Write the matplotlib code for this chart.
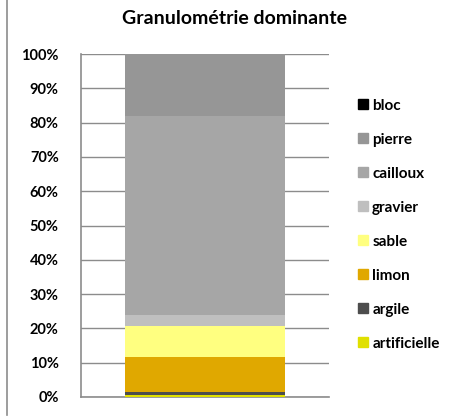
import matplotlib
matplotlib.use("Agg")
import matplotlib.pyplot as plt
from matplotlib.lines import Line2D

plt.rcParams['font.family'] = ['Lato', 'DejaVu Sans']

categories = ["artificielle", "argile", "limon", "sable", "gravier", "cailloux", "pierre", "bloc"]
values = [0.6, 0.8, 10.3, 9.0, 3.2, 58.0, 18.1, 0.0]
colors = ["#E0E000", "#4D4D4D", "#E0A800", "#FFFF80", "#BFBFBF", "#A6A6A6", "#969696", "#000000"]
yticks = [0, 10, 20, 30, 40, 50, 60, 70, 80, 90, 100]
title = "Granulométrie dominante"

fig = plt.figure(figsize=(4.5, 4.17), dpi=100)
ax = fig.add_axes([81/450, 20/417, 248/450, 343/417])

bottom = 0
for cat, v, c in zip(categories, values, colors):
    ax.bar(0, v, width=0.645, bottom=bottom, color=c, zorder=3)
    bottom += v

ax.set_xlim(-0.5, 0.5)
ax.set_ylim(0, 100)
ax.set_yticks(yticks)
ax.set_yticklabels([f"{t}%" for t in yticks], fontweight='bold', fontsize=10.5)
ax.set_xticks([])
ax.grid(axis='y', color='#8C8C8C', linewidth=1, zorder=0)
for s in ['top', 'right']:
    ax.spines[s].set_visible(False)
for s in ['left', 'bottom']:
    ax.spines[s].set_color('#8C8C8C')
    ax.spines[s].set_linewidth(1.2)
ax.tick_params(axis='y', length=0, pad=16)

fig.text(234/450, 1 - 18/417, title, ha='center', va='center', fontsize=14, fontweight='bold')

handles = [Line2D([], [], marker='s', linestyle='none', markersize=7.5, markerfacecolor=c, markeredgecolor=c)
           for c in colors[::-1]]
leg = fig.legend(handles, categories[::-1], loc='upper left', bbox_to_anchor=(350/450, 1 - 94/417),
                 frameon=False, labelspacing=1.31, handletextpad=0.05, handlelength=1.1,
                 borderaxespad=0, borderpad=0.3,
                 prop={'weight': 'bold', 'size': 11})

fig.add_artist(Line2D([6.5/450, 6.5/450], [2/417, 1], transform=fig.transFigure, color='#8C8C8C', linewidth=1.2))

fig.savefig("out.png", dpi=100)
